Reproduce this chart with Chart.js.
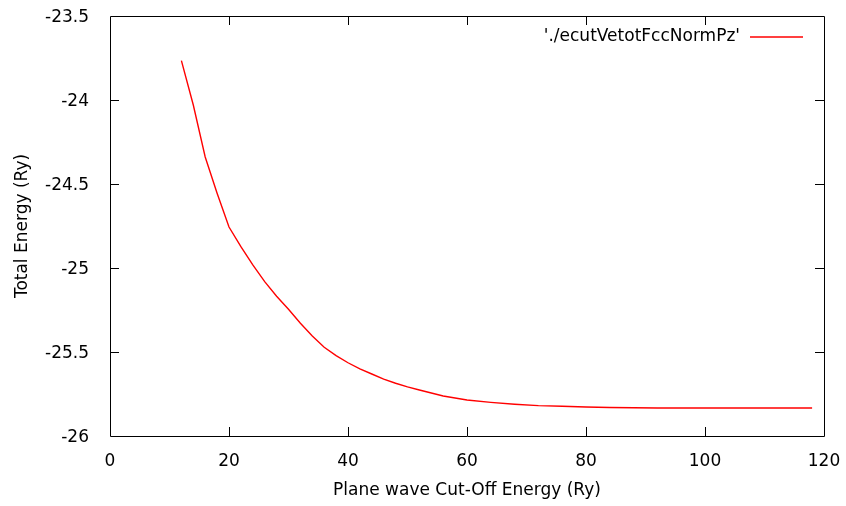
<!DOCTYPE html>
<html>
<head>
<meta charset="utf-8">
<script src="https://cdn.jsdelivr.net/npm/chart.js@4.4.1/dist/chart.umd.min.js"></script>
<style>
  html, body { margin: 0; padding: 0; background: #fff; }
  #wrap { width: 846px; height: 506px; }
</style>
</head>
<body>
<div id="wrap"><canvas id="grafico" width="846" height="506"></canvas></div>
<script>
// cut-off energy (Ry) vs total energy (Ry)
const ecut = [12, 14, 16, 18, 20, 22, 24, 26, 28, 30, 32, 34, 36, 38, 40, 42, 44, 46, 48, 50, 52, 56, 60, 64, 68, 72, 76, 80, 84, 88, 92, 96, 100, 104, 108, 112, 116, 118];
const etot = [-23.766, -24.03, -24.339, -24.555, -24.756, -24.873, -24.982, -25.081, -25.168, -25.246, -25.329, -25.405, -25.472, -25.522, -25.564, -25.601, -25.631, -25.661, -25.686, -25.708, -25.726, -25.762, -25.786, -25.800, -25.811, -25.819, -25.823, -25.827, -25.830, -25.832, -25.833, -25.833, -25.833, -25.833, -25.833, -25.833, -25.833, -25.833];
const serieNombre = "'./ecutVetotFccNormPz'";
const xTitulo = "Plane wave Cut-Off Energy (Ry)";
const yTitulo = "Total Energy (Ry)";

const fuente = "DejaVu Sans";
const tam = 17;

// marco y ticks hacia adentro, estilo gnuplot
const marcoGnuplot = {
  id: "marcoGnuplot",
  afterDatasetsDraw(chart) {
    const { ctx, chartArea: a, scales } = chart;
    const largo = 9;
    ctx.save();
    ctx.strokeStyle = "#000";
    ctx.lineWidth = 1;
    ctx.beginPath();
    ctx.rect(Math.round(a.left) + 0.5, Math.round(a.top) + 0.5,
      Math.round(a.right - a.left), Math.round(a.bottom - a.top));
    scales.x.ticks.forEach(t => {
      if (t.value <= scales.x.min || t.value >= scales.x.max) return;
      const px = Math.round(scales.x.getPixelForValue(t.value)) + 0.5;
      ctx.moveTo(px, a.bottom);
      ctx.lineTo(px, a.bottom - largo);
      ctx.moveTo(px, a.top);
      ctx.lineTo(px, a.top + largo);
    });
    scales.y.ticks.forEach(t => {
      if (t.value <= scales.y.min || t.value >= scales.y.max) return;
      const py = Math.round(scales.y.getPixelForValue(t.value)) + 0.5;
      ctx.moveTo(a.left, py);
      ctx.lineTo(a.left + largo, py);
      ctx.moveTo(a.right, py);
      ctx.lineTo(a.right - largo, py);
    });
    ctx.stroke();

    // leyenda
    ctx.font = tam + "px '" + fuente + "'";
    ctx.fillStyle = "#000";
    ctx.textAlign = "right";
    ctx.textBaseline = "middle";
    ctx.fillText(serieNombre, 740, 37);
    ctx.strokeStyle = "#ff0000";
    ctx.lineWidth = 1.4;
    ctx.beginPath();
    ctx.moveTo(750, 37);
    ctx.lineTo(803, 37);
    ctx.stroke();
    ctx.restore();
  }
};

const sinRelleno = s => {
  s.paddingTop = 0;
  s.paddingBottom = 0;
  s.paddingLeft = 0;
  s.paddingRight = 0;
};

new Chart(document.getElementById("grafico"), {
  type: "line",
  data: {
    datasets: [{
      label: serieNombre,
      data: ecut.map((x, i) => ({ x: x, y: etot[i] })),
      borderColor: "#ff0000",
      borderWidth: 1.4,
      pointRadius: 0,
      tension: 0,
      fill: false
    }]
  },
  options: {
    responsive: false,
    animation: false,
    layout: { padding: { top: 16, right: 22, left: 0, bottom: 0 } },
    plugins: {
      legend: { display: false },
      tooltip: { enabled: false }
    },
    scales: {
      x: {
        type: "linear",
        min: 0,
        max: 120,
        grid: { display: false },
        border: { display: false },
        ticks: {
          stepSize: 20,
          padding: 7,
          color: "#000",
          font: { family: fuente, size: tam },
          maxRotation: 0
        },
        title: {
          display: true,
          text: xTitulo,
          color: "#000",
          font: { family: fuente, size: tam },
          padding: { top: 5, bottom: 5 }
        },
        afterFit: s => { s.height = 70; sinRelleno(s); }
      },
      y: {
        min: -26,
        max: -23.5,
        grid: { display: false },
        border: { display: false },
        ticks: {
          stepSize: 0.5,
          padding: 13,
          labelOffset: 2,
          color: "#000",
          font: { family: fuente, size: tam },
          callback: v => String(v)
        },
        title: {
          display: true,
          text: yTitulo,
          color: "#000",
          font: { family: fuente, size: tam },
          padding: { top: 12, bottom: 12 }
        },
        afterFit: s => { s.width = 110; sinRelleno(s); }
      }
    }
  },
  plugins: [marcoGnuplot]
});
</script>
</body>
</html>
